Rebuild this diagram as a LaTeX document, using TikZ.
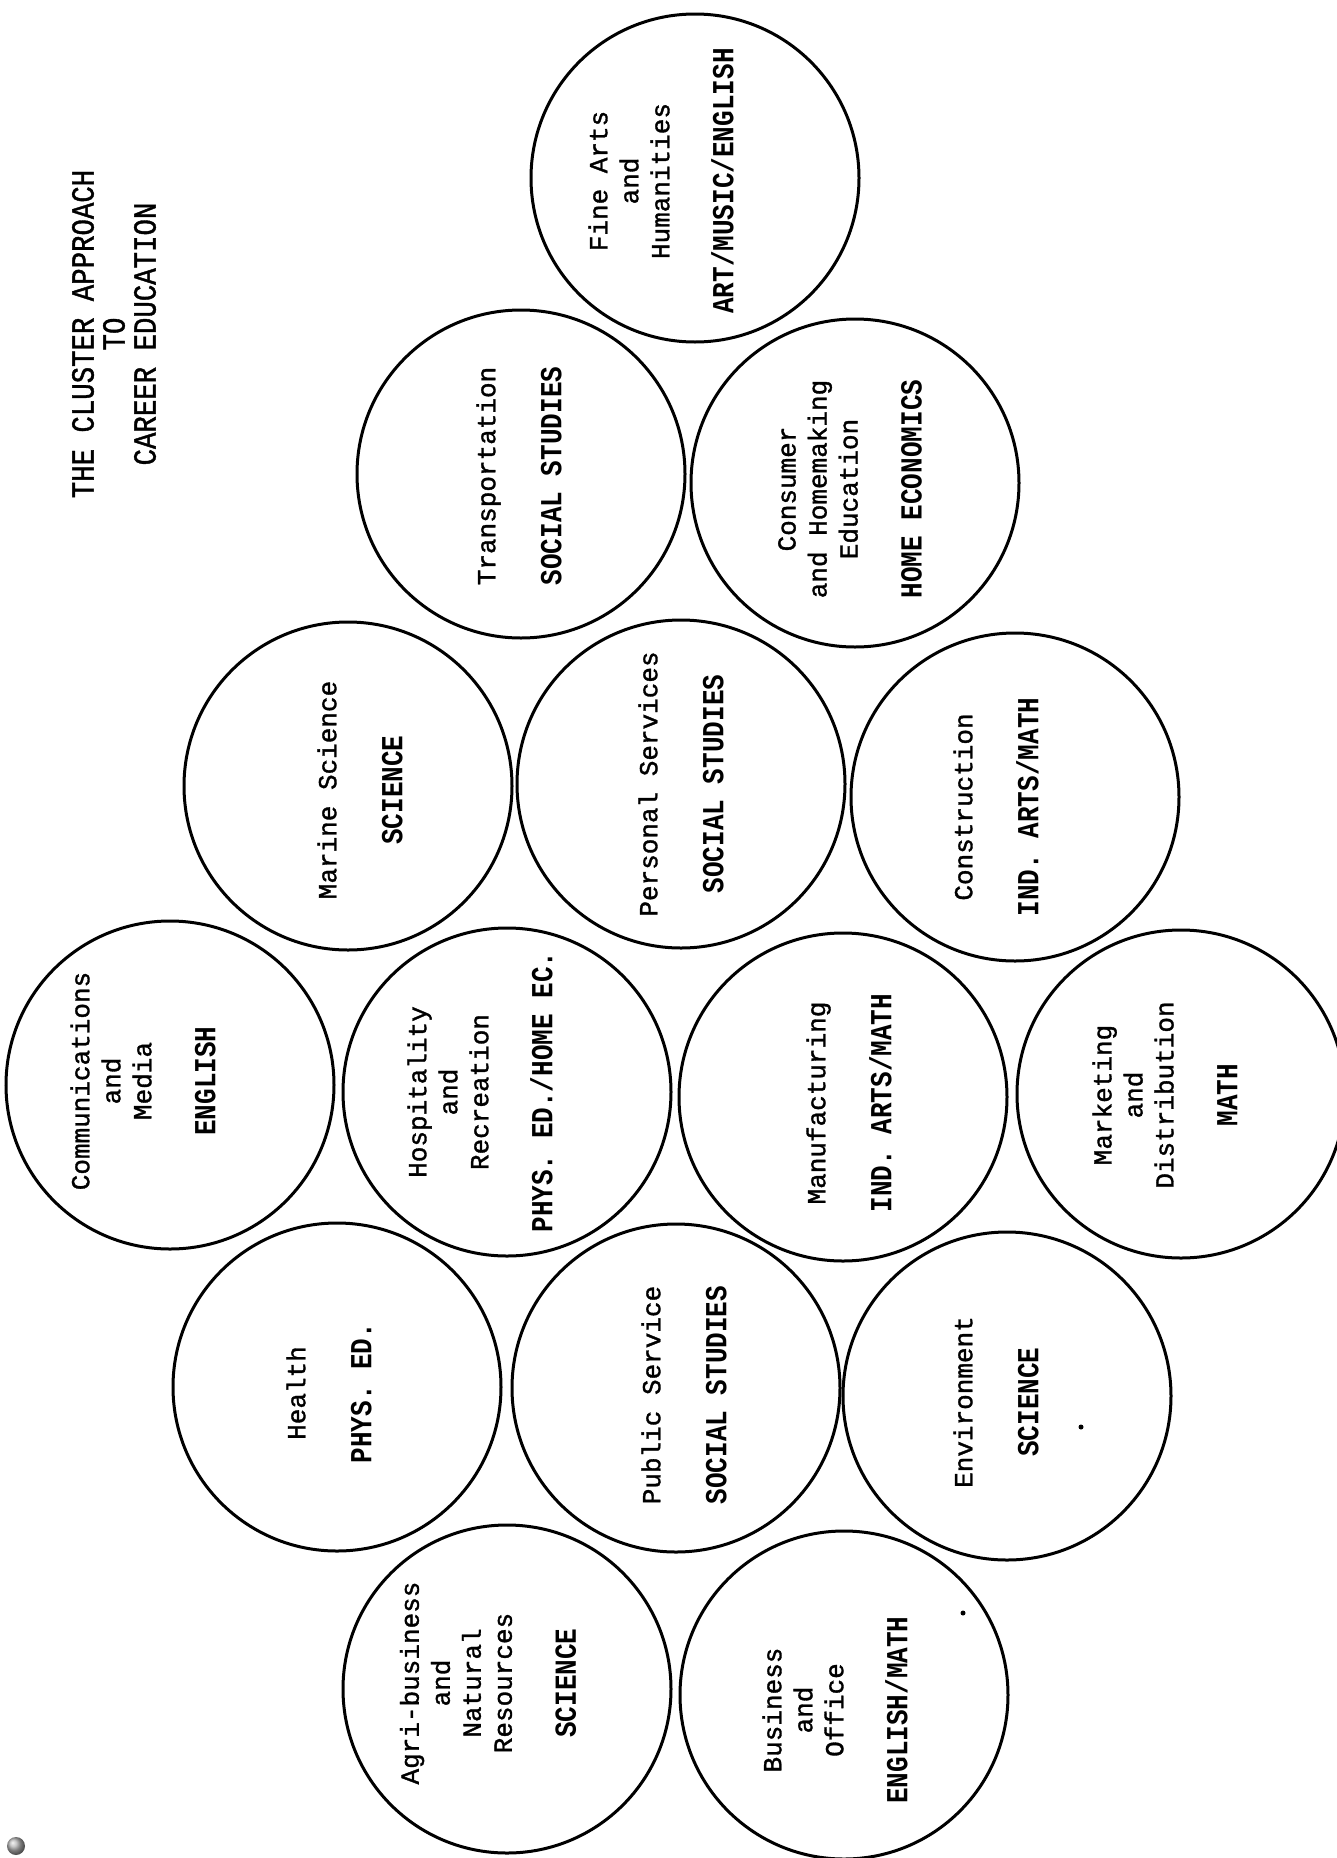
\documentclass[tikz,border=0pt]{standalone}
\usepackage{fontspec}
\newfontfamily\labfont[FakeBold=1.3]{Liberation Mono}
\newfontfamily\subfont[FakeStretch=0.85]{Liberation Mono}
\newfontfamily\titfont[FakeStretch=0.85,FakeBold=1.2]{Liberation Mono}
\newcommand\lbf{\labfont\fontsize{26}{31}\selectfont}
\newcommand\sbf{\subfont\bfseries\fontsize{30.6}{31}\selectfont}
\newcommand\tbf{\titfont\fontsize{32.2}{31}\selectfont}
\begin{document}
\begin{tikzpicture}[x=1pt,y=-1pt,
  cl/.style={circle,draw=black,line width=3pt,minimum size=328pt,inner sep=0pt},
  lbl/.style={rotate=90,align=center,inner sep=0pt,font=\lbf},
  ttl/.style={rotate=90,align=center,inner sep=0pt,font=\tbf}]
\useasboundingbox (0,0) rectangle (1337,1858);
\fill[white] (0,0) rectangle (1337,1858);
% circles
\node[cl] (fine)   at (695,178)  {};
\node[cl] (trans)  at (521,474)  {};
\node[cl] (cons)   at (855,483)  {};
\node[cl] (marine) at (348,786)  {};
\node[cl] (pers)   at (681,784)  {};
\node[cl] (constr) at (1015,797) {};
\node[cl] (comm)   at (170,1085) {};
\node[cl] (hosp)   at (507,1092) {};
\node[cl] (manu)   at (843,1097) {};
\node[cl] (mkt)    at (1181,1094){};
\node[cl] (health) at (337,1387) {};
\node[cl] (pub)    at (676,1388) {};
\node[cl] (env)    at (1007,1396){};
\node[cl] (agri)   at (507,1689) {};
\node[cl] (bus)    at (844,1695) {};
% title
\node[ttl] (title) at (114,334) {THE CLUSTER APPROACH\\TO\\CAREER EDUCATION};
% labels
\node[lbl] (tfine)   at (661,181)  {Fine Arts\\and\\Humanities\\[33pt]\sbf ART/MUSIC/ENGLISH};
\node[lbl] (ttrans)  at (519,476)  {Transportation\\[35pt]\sbf SOCIAL STUDIES};
\node[lbl] (tcons)   at (850,489)  {Consumer\\and Homemaking\\Education\\[33pt]\sbf HOME ECONOMICS};
\node[lbl] (tmarine) at (360,790)  {Marine Science\\[35pt]\sbf SCIENCE};
\node[lbl] (tpers)   at (681,784)  {Personal Services\\[35pt]\sbf SOCIAL STUDIES};
\node[lbl] (tconstr) at (996,807)  {Construction\\[35pt]\sbf IND. ARTS/MATH};
\node[lbl] (tcomm)   at (143,1081) {Communications\\and\\Media\\[33pt]\sbf ENGLISH};
\node[lbl] (thosp)   at (480,1092) {Hospitality\\and\\Recreation\\[33pt]\sbf PHYS. ED./HOME EC.};
\node[lbl] (tmanu)   at (849,1103) {Manufacturing\\[35pt]\sbf IND. ARTS/MATH};
\node[lbl] (tmkt)    at (1165,1095){Marketing\\and\\Distribution\\[33pt]\sbf MATH};
\node[lbl] (thealth) at (329,1393) {Health\\[35pt]\sbf PHYS. ED.};
\node[lbl] (tpub)    at (684,1395) {Public Service\\[35pt]\sbf SOCIAL STUDIES};
\node[lbl] (tenv)    at (996,1402) {Environment\\[35pt]\sbf SCIENCE};
\node[lbl] (tagri)   at (488,1683) {Agri-business\\and\\Natural\\Resources\\[33pt]\sbf SCIENCE};
\node[lbl] (tbus)    at (835,1710) {Business\\and\\Office\\[33pt]\sbf ENGLISH/MATH};
% specks
\fill (1081,1427) circle (2.5pt);
\fill (963,1613) circle (2.5pt);
\shade[ball color=gray!60] (16,1846) circle (9pt);
\end{tikzpicture}
\end{document}
